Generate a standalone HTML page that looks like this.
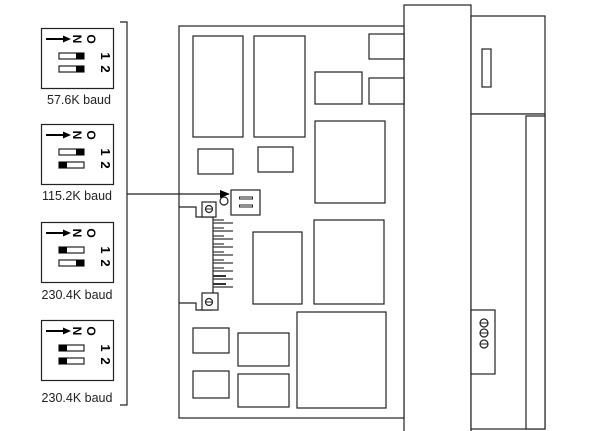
<!DOCTYPE html><html><head><style>body{margin:0;background:#fff}svg{display:block}</style></head><body>
<svg width="600" height="431" viewBox="0 0 600 431" xmlns="http://www.w3.org/2000/svg" font-family="Liberation Sans, sans-serif">
<defs>
<g id="dip">
<rect x="0.5" y="0.5" width="72" height="60" fill="#fff" stroke="#222" stroke-width="1.2"/>
<line x1="5" y1="11" x2="24" y2="11" stroke="#000" stroke-width="2"/>
<polygon points="30,11 22,7.5 22,14.5" fill="#000"/>
<text transform="translate(28,11) rotate(90)" font-size="12" font-weight="bold" text-anchor="middle" dy="-4">N</text>
<text transform="translate(42,11) rotate(90)" font-size="12" font-weight="bold" text-anchor="middle" dy="-4">O</text>
<text transform="translate(56,28) rotate(90)" font-size="13" font-weight="bold" text-anchor="middle" dy="-4">1</text>
<text transform="translate(56,41) rotate(90)" font-size="13" font-weight="bold" text-anchor="middle" dy="-4">2</text>
</g>
</defs>
<use href="#dip" x="41" y="28"/>
<use href="#dip" x="41" y="124"/>
<use href="#dip" x="41" y="222"/>
<use href="#dip" x="41" y="320"/>
<g stroke="#222" stroke-width="1.2" fill="#fff">
<rect x="59" y="53" width="25" height="6"/><rect x="59" y="66" width="25" height="6"/>
<rect x="59" y="149" width="25" height="6"/><rect x="59" y="162" width="25" height="6"/>
<rect x="59" y="247" width="25" height="6"/><rect x="59" y="260" width="25" height="6"/>
<rect x="59" y="345" width="25" height="6"/><rect x="59" y="358" width="25" height="6"/>
</g>
<g fill="#000">
<rect x="76" y="53" width="8" height="6"/><rect x="76" y="66" width="8" height="6"/>
<rect x="76" y="149" width="8" height="6"/><rect x="59" y="162" width="8" height="6"/>
<rect x="59" y="247" width="8" height="6"/><rect x="76" y="260" width="8" height="6"/>
<rect x="59" y="345" width="8" height="6"/><rect x="59" y="358" width="8" height="6"/>
</g>
<g font-size="12.5" fill="#222" text-anchor="middle">
<text x="79" y="104">57.6K baud</text>
<text x="77" y="200">115.2K baud</text>
<text x="77" y="299">230.4K baud</text>
<text x="77" y="402">230.4K baud</text>
</g>
<g stroke="#222" stroke-width="1.2" fill="none">
<polyline points="120,22 127,22 127,405 120,405"/>
</g>
<g stroke="#222" stroke-width="1.2" fill="#fff">
<rect x="404" y="5" width="67" height="440"/>
<rect x="471" y="16" width="74" height="98"/>
<rect x="471" y="114" width="74" height="315"/>
<rect x="526" y="116" width="19" height="313"/>
<rect x="482" y="49" width="9" height="38"/>
<rect x="471" y="310" width="24" height="64"/>
<rect x="179" y="26" width="225" height="392"/>
<rect x="193" y="36" width="50" height="101"/>
<rect x="254" y="36" width="51" height="101"/>
<rect x="369" y="34" width="35" height="25"/>
<rect x="315" y="72" width="47" height="32"/>
<rect x="369" y="78" width="35" height="26"/>
<rect x="315" y="121" width="70" height="82"/>
<rect x="198" y="149" width="35" height="25"/>
<rect x="258" y="147" width="35" height="25"/>
<rect x="231" y="190" width="29" height="25"/>
<circle cx="224" cy="201" r="4"/>
<rect x="253" y="232" width="49" height="72"/>
<rect x="314" y="220" width="70" height="84"/>
<rect x="297" y="312" width="89" height="96"/>
<rect x="193" y="328" width="36" height="25"/>
<rect x="238" y="333" width="51" height="33"/>
<rect x="193" y="371" width="36" height="27"/>
<rect x="238" y="374" width="51" height="33"/>
<polyline points="179,207 196,207 196,217 213,217" fill="none"/>
<polyline points="179,303 196,303 196,310 213,310" fill="none"/>
<line x1="213" y1="217" x2="213" y2="293"/>
<rect x="202" y="202" width="14" height="15"/>
<rect x="202" y="293" width="16" height="17"/>
<circle cx="209" cy="209" r="3.5"/>
<circle cx="209" cy="302" r="3.5"/>
<circle cx="484" cy="323" r="4"/>
<circle cx="484" cy="333" r="4"/>
<circle cx="484" cy="344" r="4"/>
</g>
<line x1="127" y1="194" x2="222" y2="194" stroke="#222" stroke-width="1.2"/>
<polygon points="230,194 220,190 220,198" fill="#000"/>
<g stroke="#222" stroke-width="1">
<line x1="205" y1="209" x2="213" y2="209"/><line x1="205" y1="302" x2="213" y2="302"/>
<line x1="480" y1="323" x2="488" y2="323"/><line x1="480" y1="333" x2="488" y2="333"/><line x1="480" y1="344" x2="488" y2="344"/>
<line x1="239" y1="198" x2="253" y2="198" stroke-width="3"/><line x1="239" y1="206" x2="253" y2="206" stroke-width="3"/>
<line x1="240" y1="198" x2="252" y2="198" stroke="#fff" stroke-width="1"/><line x1="240" y1="206" x2="252" y2="206" stroke="#fff" stroke-width="1"/>
</g>
<g stroke="#333" stroke-width="1.2">
<line x1="213" y1="223" x2="233" y2="223"/><line x1="213" y1="231" x2="233" y2="231"/>
<line x1="213" y1="239" x2="233" y2="239"/><line x1="213" y1="247" x2="233" y2="247"/>
<line x1="213" y1="255" x2="233" y2="255"/><line x1="213" y1="263" x2="233" y2="263"/>
<line x1="213" y1="271" x2="233" y2="271"/><line x1="213" y1="279" x2="233" y2="279"/>
<line x1="213" y1="287" x2="233" y2="287"/>
<line x1="213" y1="220" x2="224" y2="220"/><line x1="213" y1="228" x2="224" y2="228"/>
<line x1="213" y1="236" x2="224" y2="236"/><line x1="213" y1="244" x2="224" y2="244"/>
<line x1="213" y1="252" x2="224" y2="252"/><line x1="213" y1="260" x2="224" y2="260"/>
<line x1="213" y1="268" x2="224" y2="268"/><line x1="213" y1="276" x2="226" y2="276" stroke-width="2"/>
<line x1="213" y1="284" x2="226" y2="284" stroke-width="2"/>
</g>
</svg>
</body></html>
